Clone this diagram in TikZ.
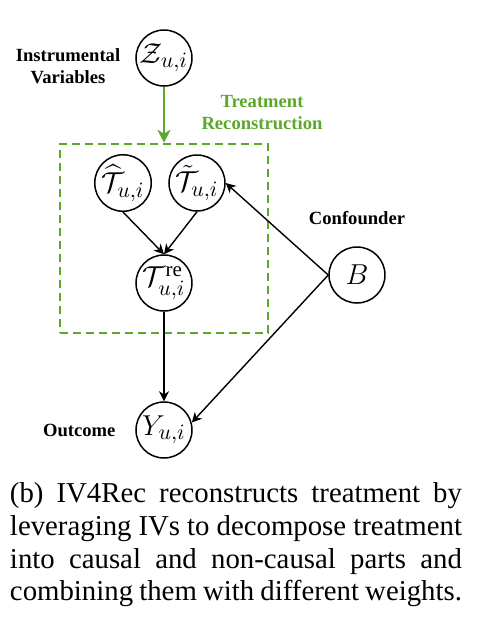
\documentclass[tikz,border=0pt]{standalone}
\usepackage{amsmath}
\usepackage{fontspec}
\setmainfont{Liberation Serif}
\usetikzlibrary{arrows.meta, positioning}
\definecolor{reconGreen}{RGB}{92, 168, 42}

\begin{document}
\begin{tikzpicture}[x=0.5pt, y=-0.5pt,
  var/.style={draw, circle, line width=0.75pt, minimum size=28pt, inner sep=0pt, font=\fontsize{15}{17}\selectfont},
  lbl/.style={font=\fontsize{9.3}{11}\selectfont\bfseries, align=center},
  edge/.style={-{Stealth[length=5pt, width=5pt, inset=1.6pt]}, line width=0.7pt},
  reconbox/.style={draw=reconGreen, dash pattern=on 4pt off 2.5pt, line width=1.3pt, minimum width=104pt, minimum height=94.5pt, inner sep=0pt}]
  \useasboundingbox (0,0) rectangle (483,629);

  % Reconstruction box
  \node[reconbox] (recon) at (164,238.5) {};

  % Nodes
  \node[var] (z) at (164,58) {$\mathcal{Z}_{u,i}$};
  \node[var] (that) at (123,183) {$\widehat{\mathcal{T}}_{u,i}$};
  \node[var] (ttilde) at (197,183) {$\tilde{\mathcal{T}}_{u,i}$};
  \node[var] (tre) at (164,283) {$\mathcal{T}^{\mathrm{re}}_{u,i}$};
  \node[var] (b) at (357,275) {$B$};
  \node[var] (y) at (164,430) {$Y_{u,i}$};

  % Labels
  \node[lbl, left=4pt of z, yshift=-4pt] (ivlabel) {Instrumental\\Variables};
  \node[lbl, text=reconGreen] (reclabel) at (262,113) {Treatment\\Reconstruction};
  \node[lbl, above=7pt of b] (conflabel) {Confounder};
  \node[lbl, left=6.4pt of y] (outlabel) {Outcome};

  % Arrows
  \draw[edge, draw=reconGreen, line width=1.1pt, -{Stealth[length=6.5pt, width=6.5pt, inset=2pt]}] (z) -- (recon.north);
  \draw[edge] (that.south) -- (tre.north);
  \draw[edge] (ttilde.south) -- (tre.north);
  \draw[edge] (b.west) -- (ttilde.east);
  \draw[edge] (b.west) -- (y.15);
  \draw[edge] (tre) -- (y);

  % Caption
  \node[text width=226pt, align=justify, inner sep=0pt, font=\fontsize{14.4}{16.3}\selectfont] (caption) at (236,545)
    {(b) IV4Rec reconstructs treatment by\linebreak leveraging IVs to decompose treatment\linebreak into causal and non-causal parts and\linebreak combining them with different weights.};
\end{tikzpicture}
\end{document}
